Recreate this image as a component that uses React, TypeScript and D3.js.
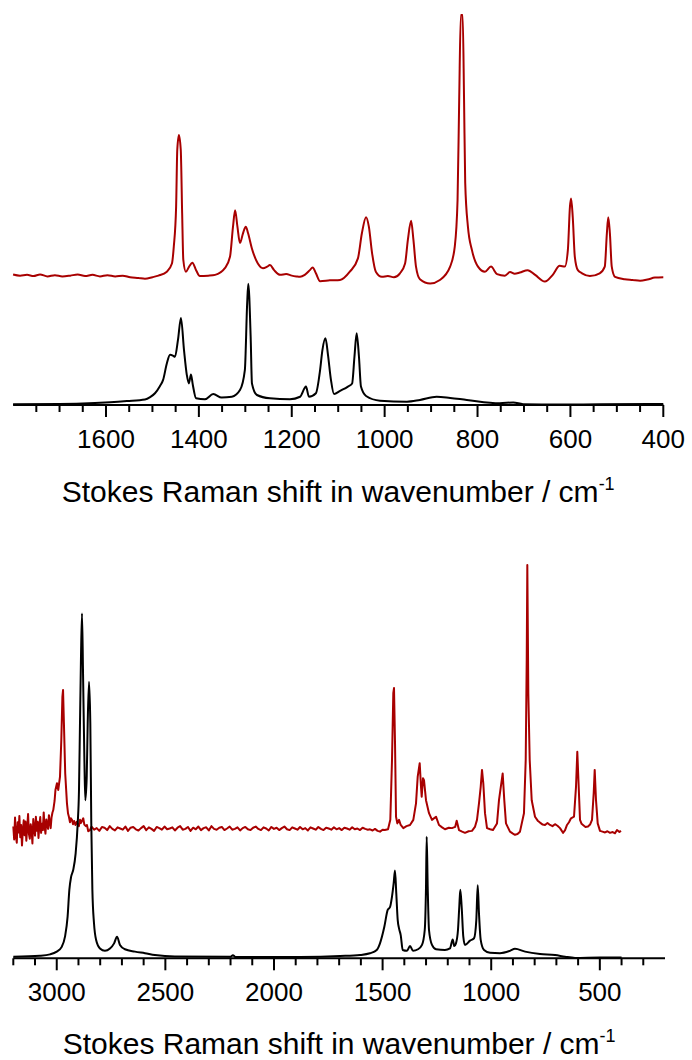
import React from "react";
import * as d3 from "d3";

// ---------- data ----------
const topMajorTicks = [1600, 1400, 1200, 1000, 800, 600, 400];
const bottomMajorTicks = [3000, 2500, 2000, 1500, 1000, 500];
const axisTitle = "Stokes Raman shift in wavenumber / cm";
const axisTitleSup = "-1";

// top panel, red spectrum [wavenumber, intensity]
const topRed: [number, number][] = [
  [1800, 33.3], [1785, 33.0], [1770, 33.2], [1756, 32.9], [1742, 33.3], [1726, 32.8], [1710, 33.1],
  [1694, 32.8], [1677, 33.0], [1661, 33.3], [1645, 32.9], [1629, 33.2], [1613, 32.8], [1597, 33.1],
  [1580, 32.8], [1564, 33.0], [1548, 32.6], [1530, 32.4], [1516, 32.2], [1500, 32.6], [1487, 33.0],
  [1469, 34.0], [1458, 36.1], [1454, 40.4], [1449, 50.6], [1446.5, 65.1], [1443, 68.9], [1439, 65.1],
  [1436, 48.9], [1433.5, 37.0], [1428, 34.0], [1421, 35.3], [1414, 36.3], [1406, 34.4], [1398, 32.9],
  [1380, 33.0], [1365, 33.2], [1344, 34.9], [1333, 37.8], [1326.5, 45.5], [1322, 49.7], [1317, 45.5],
  [1311.5, 41.3], [1305, 43.8], [1299, 45.5], [1294, 43.8], [1286, 40.0], [1273, 36.1], [1262, 34.9],
  [1253, 35.3], [1247, 35.7], [1238, 34.4], [1225, 33.2], [1212, 33.4], [1200, 33.0], [1190, 32.8],
  [1182, 32.7], [1172, 33.2], [1161, 34.4], [1155, 35.1], [1148, 33.6], [1139, 31.6], [1118, 31.8],
  [1096, 31.9], [1075, 34.0], [1057.5, 37.4], [1049, 43.8], [1040, 47.9], [1034, 45.5], [1027, 38.7],
  [1019, 34.0], [1006, 32.7], [993, 32.9], [980, 32.6], [967, 33.6], [956, 36.1], [950, 42.1],
  [943, 47.0], [938, 42.1], [932.5, 35.3], [924, 32.1], [902, 31.0], [881, 31.9], [859, 35.3],
  [849, 40.4], [843, 52.3], [839.5, 77.8], [836, 99.5], [832, 99.5], [829, 77.8], [826.5, 56.6],
  [820.7, 45.5], [812, 39.5], [799, 35.3], [784, 34.0], [771, 35.3], [758, 33.4], [741, 33.0],
  [730, 33.9], [720, 33.5], [709, 33.8], [692, 34.4], [676, 33.2], [655, 31.5], [638, 33.2],
  [623, 35.5], [612, 35.3], [605.5, 39.5], [601, 50.6], [598.5, 52.7], [595, 48.0], [590.5, 37.8],
  [584, 34.4], [575, 33.6], [558, 32.9], [537, 33.6], [526, 35.3], [521.5, 43.8], [518.5, 47.9],
  [515, 43.8], [511, 35.3], [504, 32.7], [483, 32.1], [466, 31.9], [450, 31.7], [434, 32.0],
  [418, 32.5], [400, 32.6],
];

// top panel, black spectrum
const topBlack: [number, number][] = [
  [1800, 0.2], [1700, 0.25], [1624, 0.5], [1591, 0.7], [1555, 1.0], [1516, 1.4], [1505, 2.0],
  [1494.5, 3.0], [1484, 4.8], [1477, 6.4], [1469, 10.6], [1462, 12.8], [1456, 12.6], [1451.5, 12.3],
  [1445, 16.6], [1438.6, 22.2], [1432, 14.0], [1426, 7.7], [1421.5, 5.5], [1417, 7.8], [1413, 5.1],
  [1406, 1.7], [1387, 1.45], [1369, 2.8], [1351, 1.9], [1329, 2.1], [1311.5, 3.8], [1301, 8.9],
  [1296, 26.0], [1293.6, 30.9], [1288.5, 17.4], [1285.7, 5.5], [1275, 2.55], [1247, 1.7], [1204, 1.45],
  [1182, 2.1], [1169.4, 4.7], [1163, 2.1], [1148, 3.0], [1139, 8.9], [1134, 14.0], [1127.4, 17.0],
  [1122, 12.8], [1115.6, 6.4], [1109, 2.8], [1096, 3.6], [1079, 4.7], [1070, 5.5], [1065, 12.3],
  [1060.3, 18.3], [1055.3, 12.3], [1051, 4.7], [1040, 2.3], [1010, 1.1], [952, 0.85], [924, 1.3],
  [888, 2.1], [859, 1.8], [823, 1.3], [752, 0.45], [723, 0.65], [702, 0.2], [622, 0.1], [536, 0.2],
  [400, 0.25],
];

// bottom panel, red spectrum
const bottomRed: [number, number][] = [
  [3200, 33.5], [3196, 30.2], [3192, 35.8], [3188, 31.0], [3184, 29.4], [3180, 34.6], [3176, 32.0],
  [3172, 36.2], [3168, 30.8], [3164, 33.9], [3160, 28.7], [3156, 32.5], [3152, 35.1], [3148, 31.3],
  [3144, 34.8], [3140, 29.9], [3136, 33.2], [3132, 36.7], [3128, 31.6], [3124, 30.4], [3120, 34.1],
  [3116, 32.8], [3112, 29.2], [3108, 35.4], [3104, 33.0], [3100, 31.2], [3096, 36.0], [3092, 32.4],
  [3088, 34.7], [3084, 30.6], [3080, 33.8], [3076, 35.9], [3072, 31.9], [3068, 34.2], [3064, 32.6],
  [3060, 37.1], [3056, 33.4], [3052, 31.7], [3048, 35.3], [3044, 34.0], [3040, 32.9], [3036, 36.4],
  [3032, 34.6], [3028, 33.1], [3024, 35.8], [3020, 37.0], [3016, 37.7], [3010, 40.0], [3006, 42.8],
  [2999, 44.5], [2993, 42.8], [2985, 46.2], [2979, 55.5], [2974, 66.5], [2971, 68.2], [2967, 59.8],
  [2961, 47.0], [2953, 39.4], [2948, 36.8], [2944, 36.0], [2939, 34.6], [2935, 35.6], [2930, 35.2],
  [2925, 34.1], [2920, 34.9], [2914, 33.9], [2908, 34.7], [2903, 34.0], [2898, 33.6], [2893, 35.2],
  [2889, 34.4], [2885, 34.8], [2878, 35.6], [2873, 34.0], [2866, 33.6], [2861, 33.9], [2855, 32.3],
  [2847, 32.6],
  [2840, 33.5], [2828, 32.7], [2816, 33.1], [2804, 32.4], [2792, 33.4], [2780, 33.2], [2768, 32.6],
  [2756, 33.6], [2744, 32.9], [2732, 32.5], [2720, 33.3], [2708, 33.0], [2696, 32.7], [2684, 33.5],
  [2672, 32.4], [2660, 33.2], [2648, 33.4], [2636, 32.8], [2624, 32.5], [2612, 33.1], [2600, 33.6],
  [2588, 32.6], [2576, 33.3], [2564, 32.9], [2552, 32.4], [2540, 33.4], [2528, 33.1], [2516, 32.7],
  [2504, 33.5], [2492, 32.8], [2480, 33.0], [2468, 33.3], [2456, 32.5], [2444, 33.2], [2432, 33.6],
  [2420, 32.7], [2408, 32.9], [2396, 33.4], [2384, 32.4], [2372, 33.2], [2360, 32.8], [2348, 33.5],
  [2336, 32.6], [2324, 33.1], [2312, 33.3], [2300, 32.5], [2288, 33.6], [2276, 32.9], [2264, 32.7],
  [2252, 33.2], [2240, 33.4], [2228, 32.6], [2216, 33.0], [2204, 33.5], [2192, 32.7], [2180, 32.9],
  [2168, 33.3], [2156, 32.5], [2144, 33.1], [2132, 33.4], [2120, 32.8], [2108, 32.6], [2096, 33.2],
  [2084, 33.5], [2072, 32.9], [2060, 32.6], [2048, 33.3], [2036, 33.0], [2024, 32.5], [2012, 33.4],
  [2000, 32.9], [1988, 33.2], [1976, 32.6], [1964, 33.1], [1952, 33.5], [1940, 32.8], [1928, 32.6],
  [1916, 33.3], [1904, 33.0], [1892, 32.7], [1880, 33.4], [1868, 32.8], [1856, 33.1], [1844, 32.5],
  [1832, 33.3], [1820, 33.0], [1808, 32.7], [1796, 33.4], [1784, 32.9], [1772, 32.6], [1760, 33.2],
  [1748, 33.0], [1736, 32.7], [1724, 33.3], [1712, 32.8], [1700, 33.1], [1688, 32.6], [1676, 33.2],
  [1664, 33.0], [1652, 32.7], [1640, 33.3], [1628, 32.8], [1616, 33.0], [1604, 32.6], [1592, 33.2],
  [1580, 32.9], [1568, 32.7], [1558, 32.8], [1546, 32.5], [1535, 32.9], [1523, 32.4], [1512, 32.2],
  [1500, 32.7], [1490, 32.6], [1475, 32.8], [1464.5, 35.2], [1456.7, 50.4], [1450.7, 67.4],
  [1447.5, 68.7], [1442.8, 54.7], [1438.2, 36.0], [1432.2, 34.3], [1424.4, 35.2], [1416.6, 33.9],
  [1404.6, 33.1], [1390, 33.6], [1373.8, 33.9], [1358.6, 35.2], [1346.2, 39.4], [1338.4, 46.2],
  [1329.2, 49.6], [1323.2, 43.6], [1320, 41.1], [1314, 45.8], [1309.4, 45.3], [1300.2, 40.2],
  [1286.4, 36.9], [1272.6, 35.2], [1254.2, 36.0], [1240.4, 33.9], [1226, 33.3], [1212.8, 32.8],
  [1195, 33.2], [1180.5, 33.1], [1166, 33.4], [1158.9, 35.0], [1148.3, 32.6], [1134, 32.2],
  [1120.7, 31.9], [1104, 32.3], [1088.5, 32.4], [1075, 33.4], [1065.5, 35.2], [1056.3, 39.4],
  [1048.4, 43.6], [1042.4, 47.9], [1036.4, 44.5], [1028.6, 36.9], [1019.4, 33.1], [1005, 32.8],
  [991.8, 32.6], [973.4, 34.3], [964.2, 40.2], [947.2, 47.0], [939.8, 40.2], [932, 34.3],
  [913.6, 32.2], [900, 31.7], [890.6, 31.4], [879, 31.6], [867.6, 32.2], [849.2, 36.9],
  [841.2, 50.4], [836.6, 75.8], [833.8, 100], [829.2, 67.4], [822.8, 50.4], [813.6, 40.2],
  [798.4, 36.0], [786, 35.0], [775.4, 34.5], [763, 34.0], [752.4, 33.9], [741, 34.4], [729.4, 33.9],
  [718, 33.6], [706.4, 34.1], [695, 33.7], [683.3, 33.1], [669.5, 31.9], [660, 32.6], [651.1, 33.9],
  [642, 34.6], [632.7, 35.6], [618.9, 36.0], [609.7, 43.6], [603.7, 52.5], [597.3, 43.6],
  [591.2, 35.2], [584, 34.2], [577.4, 33.9], [566, 33.4], [554.4, 33.5], [545, 34.0], [536, 35.2],
  [528.2, 42.0], [523.6, 47.9], [517.6, 40.2], [509.8, 34.3], [499.2, 32.4], [488, 32.2],
  [476, 32.0], [465, 32.3], [453.2, 31.9], [441, 32.1], [430, 31.8], [421, 32.6], [410, 32.1],
  [402.6, 32.4],
];

// bottom panel, black spectrum
const bottomBlack: [number, number][] = [
  [3200, 0.4], [3077, 0.66], [3031, 1.0], [3000, 1.7], [2977, 2.9], [2962, 5.5], [2950, 10.6],
  [2942, 17.4], [2934, 20.7], [2924, 22.5], [2913, 26.7], [2903.5, 34.3], [2897.6, 42.8], [2893, 59.8],
  [2888.4, 76.7], [2883.7, 87.7], [2879, 72.5], [2873, 51.3], [2868.6, 40.2], [2862, 46.2],
  [2857.5, 59.8], [2851.5, 70.3], [2845.5, 59.8], [2841, 34.3], [2836, 17.4], [2828.5, 8.9],
  [2819, 4.7], [2801, 2.5], [2778, 1.9], [2755, 2.5], [2736, 3.8], [2722.6, 5.5], [2709, 3.4],
  [2686, 2.3], [2640, 1.7], [2594, 1.3], [2548, 0.84], [2456, 0.45], [2200, 0.4], [2189, 0.8],
  [2178, 0.35], [2000, 0.3], [1880, 0.33], [1696, 0.58], [1604, 0.84], [1558, 1.27], [1527, 2.1],
  [1512, 3.8], [1492, 8.0], [1476.5, 12.3], [1466, 13.0], [1456.7, 15.7], [1449, 19.1], [1443, 22.3],
  [1437, 16.5], [1430.4, 9.7], [1424.4, 7.6], [1416.6, 5.9], [1407.4, 2.1], [1387.6, 1.9],
  [1373.8, 3.1], [1360, 1.9], [1337, 2.3], [1318.6, 3.4], [1306, 7.2], [1300.2, 18.2], [1297, 30.9],
  [1292.4, 18.2], [1286.4, 7.2], [1272.6, 3.4], [1254, 2.3], [1213, 2.1], [1190, 2.5], [1177.3, 4.8],
  [1170, 3.1], [1162.3, 3.8], [1153, 7.2], [1147, 13.1], [1142.3, 17.4], [1136, 13.1], [1128.5, 5.5],
  [1120.7, 3.4], [1097.7, 4.5], [1079, 5.1], [1068.6, 9.7], [1062.2, 18.6], [1056.3, 11.4],
  [1048.4, 4.7], [1033, 2.1], [1005.6, 1.4], [960, 1.3], [913.6, 1.9], [890.6, 2.4], [844, 1.7],
  [775, 1.1], [706, 0.84], [660, 0.4], [614, 0.1], [500, 0.2], [400, 0.2],
];

const RED = "#a80000";
const FONT = "'Liberation Sans', Arial, Helvetica, sans-serif";

type PanelProps = {
  xDomain: [number, number];
  xRange: [number, number];
  axisY: number;
  topY: number;
  majors: number[];
  minorStep: number;
  minorFrom: number;
  minorTo: number;
  red: [number, number][];
  black: [number, number][];
  redLinear: boolean;
  labelBaseline: number;
  titleBaseline: number;
};

function Panel(p: PanelProps) {
  const x = d3.scaleLinear().domain(p.xDomain).range(p.xRange);
  const y = d3.scaleLinear().domain([0, 100]).range([p.axisY, p.topY]);
  const smooth = d3
    .line<[number, number]>()
    .x((d) => x(d[0]))
    .y((d) => y(d[1]))
    .curve(d3.curveMonotoneX);
  const straight = d3
    .line<[number, number]>()
    .x((d) => x(d[0]))
    .y((d) => y(d[1]))
    .curve(d3.curveLinear);
  const redLine = p.redLinear ? straight : smooth;
  const minors = d3
    .range(p.minorFrom, p.minorTo + 0.001, p.minorStep)
    .filter((v) => !p.majors.includes(v));
  const cx = (p.xRange[0] + p.xRange[1]) / 2;
  return (
    <g>
      <path d={redLine(p.red) || ""} fill="none" stroke={RED} strokeWidth={2} strokeLinejoin="round" />
      <path d={smooth(p.black) || ""} fill="none" stroke="#000" strokeWidth={2} strokeLinejoin="round" />
      <line x1={p.xRange[0]} x2={p.xRange[1]} y1={p.axisY} y2={p.axisY} stroke="#000" strokeWidth={2} />
      {minors.map((v) => (
        <line key={"m" + v} x1={x(v)} x2={x(v)} y1={p.axisY} y2={p.axisY + 7} stroke="#000" strokeWidth={2} />
      ))}
      {p.majors.map((v) => (
        <g key={"M" + v}>
          <line x1={x(v)} x2={x(v)} y1={p.axisY} y2={p.axisY + 12} stroke="#000" strokeWidth={2} />
          <text x={x(v)} y={p.labelBaseline} textAnchor="middle" fontSize={26} fontFamily={FONT} fill="#000">
            {v}
          </text>
        </g>
      ))}
      <text x={cx} y={p.titleBaseline} textAnchor="middle" fontSize={30} fontFamily={FONT} fill="#000">
        {axisTitle}
        <tspan fontSize={18} dy={-12}>{axisTitleSup}</tspan>
      </text>
    </g>
  );
}

export default function App() {
  return (
    <svg
      width={692}
      height={1060}
      viewBox="0 0 692 1060"
      style={{ position: "absolute", left: 0, top: 0, background: "#fff" }}
    >
      <rect x={0} y={0} width={692} height={1060} fill="#fff" />
      <Panel
        xDomain={[1800, 400]}
        xRange={[13.1, 663.3]}
        axisY={405}
        topY={13}
        majors={topMajorTicks}
        minorStep={50}
        minorFrom={400}
        minorTo={1750}
        red={topRed}
        black={topBlack}
        redLinear={false}
        labelBaseline={448}
        titleBaseline={502}
      />
      <Panel
        xDomain={[3200, 200]}
        xRange={[13.3, 665]}
        axisY={958.3}
        topY={565}
        majors={bottomMajorTicks}
        minorStep={100}
        minorFrom={300}
        minorTo={3200}
        red={bottomRed}
        black={bottomBlack}
        redLinear={true}
        labelBaseline={1001}
        titleBaseline={1054}
      />
    </svg>
  );
}
